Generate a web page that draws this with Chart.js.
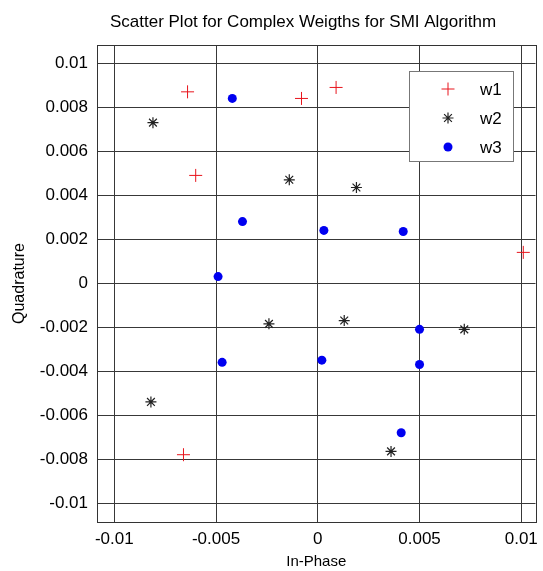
<!DOCTYPE html>
<html>
<head>
<meta charset="utf-8">
<script src="https://cdn.jsdelivr.net/npm/chart.js@4.4.1/dist/chart.umd.min.js"></script>
<style>
  html, body { margin: 0; padding: 0; background: #fff; }
  #wrap { width: 543px; height: 571px; }
</style>
</head>
<body>
<div id="wrap"><canvas id="scatter_chart"></canvas></div>
<script>
const chart_title = 'Scatter Plot for Complex Weigths for SMI Algorithm';
const x_ticks = [-0.01, -0.005, 0, 0.005, 0.01];
const y_ticks = [-0.01, -0.008, -0.006, -0.004, -0.002, 0, 0.002, 0.004, 0.006, 0.008, 0.01];

// w1 (red +)
const w1_x = [-0.0064, -0.0008, 0.0009, -0.0060, 0.0101, -0.0066];
const w1_y = [0.0087, 0.0084, 0.0089, 0.0049, 0.0014, -0.0078];
// w2 (black *)
const w2_x = [-0.0081, -0.0014, 0.0019, -0.0024, 0.0013, 0.0072, -0.0082, 0.0036];
const w2_y = [0.0073, 0.0047, 0.00435, -0.00185, -0.0017, -0.0021, -0.0054, -0.00765];
// w3 (blue dots)
const w3_x = [-0.0042, -0.0037, 0.0003, 0.0042, -0.0049, -0.0047, 0.0002, 0.0050, 0.0050, 0.0041];
const w3_y = [0.0084, 0.0028, 0.0024, 0.00235, 0.0003, -0.0036, -0.0035, -0.0021, -0.0037, -0.0068];

function toPoints(xs, ys){
    return xs.map((x, i) => ({x: x, y: ys[i]}));
}

function tickLabel(v){
    if(Math.abs(v) < 1e-12) return '0';
    return String(parseFloat(v.toFixed(4)));
}

const FONT = 'Arial, "Liberation Sans", sans-serif';

// frame, title and legend box drawn on top
const extrasPlugin = {
    id: 'extras',
    afterDraw(chart){
        const ctx = chart.ctx;
        const a = chart.chartArea;
        ctx.save();
        // frame round the plot area
        ctx.strokeStyle = '#333';
        ctx.lineWidth = 1;
        ctx.strokeRect(Math.round(a.left) + 0.5, Math.round(a.top) + 0.5,
                       Math.round(a.right - a.left), Math.round(a.bottom - a.top));

        // title
        ctx.fillStyle = '#000';
        ctx.font = '17px ' + FONT;
        ctx.textAlign = 'center';
        ctx.textBaseline = 'middle';
        ctx.fillText(chart_title, 303, 22);

        // legend
        const bx = a.left + 312, by = a.top + 26, bw = 104, bh = 90;
        ctx.fillStyle = '#fff';
        ctx.fillRect(bx, by, bw, bh);
        ctx.strokeStyle = '#777';
        ctx.strokeRect(bx + 0.5, by + 0.5, bw, bh);
        ctx.font = '17px ' + FONT;
        ctx.textAlign = 'left';
        chart.data.datasets.forEach((ds, i) => {
            const cy = by + 18 + i * 29;
            const cx = bx + 39;
            ctx.strokeStyle = ds.borderColor;
            ctx.fillStyle = ds.backgroundColor;
            ctx.lineWidth = ds.borderWidth;
            Chart.helpers.drawPoint(ctx, {
                pointStyle: ds.pointStyle,
                radius: ds.pointRadius,
                borderWidth: ds.borderWidth
            }, cx, cy);
            ctx.fillStyle = '#000';
            ctx.fillText(ds.label, bx + 71, cy + 1);
        });
        ctx.restore();
    }
};

const ctx = document.getElementById('scatter_chart').getContext('2d');
const scatter_chart = new Chart(ctx, {
    type: 'scatter',
    data: {
        datasets: [{
            label: 'w1',
            data: toPoints(w1_x, w1_y),
            pointStyle: 'cross',
            pointRadius: 6.5,
            borderWidth: 1,
            borderColor: '#e8141c',
            backgroundColor: '#e8141c'
        }, {
            label: 'w2',
            data: toPoints(w2_x, w2_y),
            pointStyle: 'star',
            pointRadius: 5.5,
            borderWidth: 1.2,
            borderColor: '#222',
            backgroundColor: '#222'
        }, {
            label: 'w3',
            data: toPoints(w3_x, w3_y),
            pointStyle: 'circle',
            pointRadius: 4.5,
            borderWidth: 0,
            borderColor: '#0000f0',
            backgroundColor: '#0000f0'
        }]
    },
    plugins: [extrasPlugin],
    options: {
        responsive: true,
        maintainAspectRatio: false,
        animation: false,
        layout: {
            padding: {top: 45, right: 5, left: 0, bottom: 0}
        },
        plugins: {
            legend: {display: false},
            title: {display: false},
            tooltip: {enabled: false}
        },
        scales: {
            x: {
                type: 'linear',
                min: -0.01085,
                max: 0.0107,
                afterBuildTicks: s => { s.ticks = x_ticks.map(v => ({value: v})); },
                afterFit: s => { s.height = 49; s.paddingLeft = 0; s.paddingRight = 0; },
                grid: {color: '#383838', lineWidth: 1, drawTicks: false},
                border: {display: true, color: '#333'},
                ticks: {
                    color: '#000',
                    padding: 7,
                    maxRotation: 0,
                    font: {family: FONT, size: 17},
                    callback: v => tickLabel(v)
                },
                title: {
                    display: true,
                    text: 'In-Phase',
                    color: '#000',
                    font: {family: FONT, size: 15},
                    padding: {top: 0, bottom: 0}
                }
            },
            y: {
                type: 'linear',
                min: -0.01086,
                max: 0.01083,
                afterBuildTicks: s => { s.ticks = y_ticks.map(v => ({value: v})); },
                afterFit: s => { s.width = 97; s.paddingTop = 0; s.paddingBottom = 0; },
                grid: {color: '#383838', lineWidth: 1, drawTicks: false},
                border: {display: true, color: '#333'},
                ticks: {
                    color: '#000',
                    padding: 9,
                    font: {family: FONT, size: 17},
                    callback: v => tickLabel(v)
                },
                title: {
                    display: true,
                    text: 'Quadrature',
                    color: '#000',
                    font: {family: FONT, size: 16},
                    padding: {top: 10, bottom: 0}
                }
            }
        }
    }
});
</script>
</body>
</html>
